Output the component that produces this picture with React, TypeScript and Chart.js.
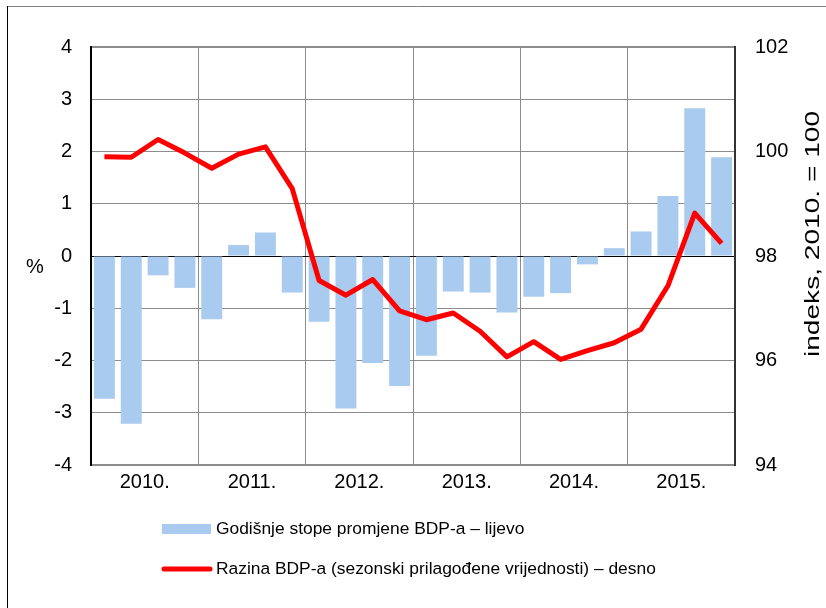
import React, { useEffect, useRef } from "react";
import { Chart, registerables } from "chart.js";

Chart.register(...registerables);

const years = ["2010.", "2011.", "2012.", "2013.", "2014.", "2015."];
const quarters = [
  "2010Q1", "2010Q2", "2010Q3", "2010Q4",
  "2011Q1", "2011Q2", "2011Q3", "2011Q4",
  "2012Q1", "2012Q2", "2012Q3", "2012Q4",
  "2013Q1", "2013Q2", "2013Q3", "2013Q4",
  "2014Q1", "2014Q2", "2014Q3", "2014Q4",
  "2015Q1", "2015Q2", "2015Q3", "2015Q4",
];
const growthRates = [
  -2.73, -3.21, -0.37, -0.61,
  -1.21, 0.21, 0.45, -0.70,
  -1.26, -2.92, -2.05, -2.49,
  -1.91, -0.68, -0.70, -1.08,
  -0.78, -0.71, -0.16, 0.15,
  0.47, 1.15, 2.83, 1.89,
];
const gdpLevel = [
  99.90, 99.89, 100.23, 99.97,
  99.68, 99.95, 100.09, 99.29,
  97.53, 97.25, 97.55, 96.95,
  96.78, 96.91, 96.56, 96.07,
  96.36, 96.02, 96.19, 96.34,
  96.60, 97.43, 98.82, 98.24,
];
const barLabel = "Godišnje stope promjene BDP-a – lijevo";
const lineLabel = "Razina BDP-a (sezonski prilagođene vrijednosti) – desno";
const leftTitle = "%";
const rightTitle = "indeks, 2010. = 100";

const FONT = "'Liberation Sans', Arial, sans-serif";
const BAR_COLOR = "#a9cbef";
const LINE_COLOR = "#ff0000";
const GRID = "#8c8c8c";

const overlayPlugin = {
  id: "overlay",
  afterDraw(chart: any) {
    const ctx = chart.ctx as CanvasRenderingContext2D;
    ctx.save();
    // frame
    ctx.strokeStyle = "#808080";
    ctx.lineWidth = 1;
    ctx.beginPath();
    ctx.moveTo(7, 6.5);
    ctx.lineTo(826, 6.5);
    ctx.stroke();
    ctx.strokeStyle = "#000";
    ctx.beginPath();
    ctx.moveTo(7.5, 6);
    ctx.lineTo(7.5, 608);
    ctx.stroke();

    // titles
    ctx.fillStyle = "#000";
    ctx.font = `20px ${FONT}`;
    ctx.textAlign = "center";
    ctx.textBaseline = "middle";
    ctx.fillText(leftTitle, 35, 267);
    ctx.save();
    ctx.translate(813, 234);
    ctx.rotate(-Math.PI / 2);
    const w = ctx.measureText(rightTitle).width;
    ctx.scale(246 / w, 1);
    ctx.fillText(rightTitle, 0, 0);
    ctx.restore();

    // legend
    ctx.font = `17.4px ${FONT}`;
    ctx.textAlign = "left";
    ctx.fillStyle = BAR_COLOR;
    ctx.fillRect(162, 524, 49, 10);
    ctx.fillStyle = "#000";
    ctx.fillText(barLabel, 216, 529);
    ctx.strokeStyle = LINE_COLOR;
    ctx.lineWidth = 5;
    ctx.lineCap = "round";
    ctx.beginPath();
    ctx.moveTo(164, 569);
    ctx.lineTo(210, 569);
    ctx.stroke();
    ctx.fillText(lineLabel, 216, 569);
    ctx.restore();
  },
};

export default function App() {
  const ref = useRef<HTMLCanvasElement | null>(null);
  useEffect(() => {
    if (!ref.current) return;
    const chart = new Chart(ref.current, {
      type: "bar",
      data: {
        labels: quarters,
        datasets: [
          {
            type: "line",
            label: lineLabel,
            data: gdpLevel,
            borderColor: LINE_COLOR,
            backgroundColor: LINE_COLOR,
            borderWidth: 5,
            pointRadius: 0,
            tension: 0,
            borderJoinStyle: "round",
            xAxisID: "x",
            yAxisID: "y2",
            order: 0,
          } as any,
          {
            type: "bar",
            label: barLabel,
            data: growthRates,
            backgroundColor: BAR_COLOR,
            borderWidth: 0,
            barPercentage: 0.78,
            categoryPercentage: 1,
            xAxisID: "x",
            yAxisID: "y",
            order: 1,
          },
        ],
      },
      options: {
        responsive: false,
        animation: false,
        layout: { padding: { top: 47, left: 0, right: 0, bottom: 0 } },
        plugins: {
          legend: { display: false },
          tooltip: { enabled: false },
          title: { display: false },
        },
        scales: {
          x: { display: false, offset: true },
          x2: {
            type: "linear",
            position: "bottom",
            min: 0,
            max: 24,
            offset: false,
            afterFit: (s: any) => {
              s.height = 143;
            },
            afterBuildTicks: (s: any) => {
              const t = [];
              for (let v = 0; v <= 24; v += 2) t.push({ value: v });
              s.ticks = t;
            },
            ticks: {
              autoSkip: false,
              maxRotation: 0,
              minRotation: 0,
              padding: 5,
              color: "#000",
              font: { family: FONT, size: 20 },
              callback: (v: any) => {
                const n = Number(v);
                return n % 4 === 2 ? years[(n - 2) / 4] : "";
              },
            },
            grid: {
              offset: false,
              drawTicks: false,
              color: (c: any) => (c.tick && c.tick.value % 4 === 0 ? GRID : "rgba(0,0,0,0)"),
              lineWidth: 1,
            },
            border: { display: true, color: GRID, width: 2 },
          },
          y: {
            position: "left",
            min: -4,
            max: 4,
            afterFit: (s: any) => {
              s.width = 91;
            },
            ticks: {
              stepSize: 1,
              padding: 19,
              color: "#000",
              font: { family: FONT, size: 20 },
            },
            grid: {
              drawTicks: false,
              color: (c: any) => (c.tick && c.tick.value === 0 ? "#000" : GRID),
              lineWidth: (c: any) => (c.tick && c.tick.value === 4 ? 2 : 1),
            },
            border: { display: true, color: "#000", width: 2 },
          },
          y2: {
            position: "right",
            min: 94,
            max: 102,
            afterFit: (s: any) => {
              s.width = 91;
            },
            ticks: {
              stepSize: 2,
              padding: 20,
              color: "#000",
              font: { family: FONT, size: 20 },
            },
            grid: { drawOnChartArea: false, drawTicks: false },
            border: { display: true, color: "#333", width: 2 },
          },
        },
      } as any,
      plugins: [overlayPlugin],
    });
    return () => chart.destroy();
  }, []);

  return (
    <div style={{ position: "absolute", left: 0, top: 0, width: 826, height: 608, background: "#fff" }}>
      <canvas ref={ref} width={826} height={608} />
    </div>
  );
}
